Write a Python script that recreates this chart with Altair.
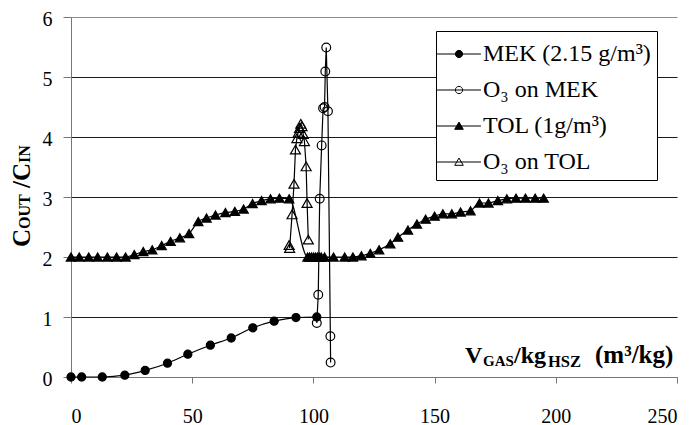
import altair as alt
import pandas as pd

FONT = "Liberation Serif"

series_names = ["MEK (2.15 g/m³)", "O₃ on MEK", "TOL (1g/m³)", "O₃ on TOL"]

mek_x = [0, 4.4, 12.9, 22.2, 30.6, 39.8, 48.2, 57.5, 66.1, 75.0, 83.8, 92.8, 101.4]
mek_y = [0, 0, 0, 0.03, 0.11, 0.23, 0.38, 0.53, 0.65, 0.82, 0.93, 0.99, 1.0]

o3mek_x = [101.4, 102.0, 102.6, 103.4, 104.0, 104.6, 104.9, 105.3, 106.0, 107.0, 107.1]
o3mek_y = [0.90, 1.37, 2.97, 3.86, 4.48, 4.50, 5.09, 5.49, 4.43, 0.68, 0.24]

tol_x = [0, 3.4, 7.3, 11.0, 15.0, 18.8, 22.5, 26.1, 29.8, 33.5, 37.4, 41.1, 44.9,
         48.7, 52.5, 55.9, 59.6, 63.7, 67.6, 71.2, 74.9, 78.6, 82.3, 86.0, 90.0,
         97.6, 98.4, 99.2, 100.0, 100.8, 101.6, 102.4, 103.2, 104.6, 108.3, 112.9,
         116.3, 119.8, 123.5, 127.1, 131.7, 134.9, 139.0, 142.7, 146.3, 150.0,
         153.4, 157.1, 160.7, 164.8, 168.5, 172.2, 176.1, 179.8, 183.6, 187.5,
         191.5, 195.0]
tol_y = [2, 2, 2, 2, 2, 2, 2, 2.04, 2.09, 2.12, 2.19, 2.26, 2.32,
         2.39, 2.59, 2.65, 2.70, 2.74, 2.76, 2.80, 2.89, 2.94, 2.97, 2.98, 2.97,
         2, 2, 2, 2, 2, 2, 2, 2, 2, 2, 2,
         2, 2.02, 2.06, 2.12, 2.22, 2.33, 2.45, 2.55, 2.63, 2.68,
         2.72, 2.72, 2.75, 2.77, 2.90, 2.90, 2.94, 2.97, 2.98, 2.98,
         2.98, 2.98]

o3tol_x = [90.0, 90.2, 91.2, 92.0, 92.6, 93.2, 93.7, 94.3, 94.8, 95.3, 95.8, 96.3, 97.0, 97.4, 97.9]
o3tol_y = [2.20, 2.15, 2.71, 3.22, 3.79, 3.98, 4.07, 4.15, 4.22, 4.18, 4.05, 3.93, 3.51, 2.90, 2.29]

x_ticks = [0, 50, 100, 150, 200, 250]
y_ticks = [0, 1, 2, 3, 4, 5, 6]

rows = []
for name, xs, ys in zip(series_names, [mek_x, o3mek_x, tol_x, o3tol_x],
                        [mek_y, o3mek_y, tol_y, o3tol_y]):
    for i, (xv, yv) in enumerate(zip(xs, ys)):
        rows.append({"series": name, "x": xv, "y": yv, "idx": i})
df = pd.DataFrame(rows)

X = alt.X("x:Q", scale=alt.Scale(domain=[0, 250], nice=False),
          axis=alt.Axis(values=x_ticks, title=None, grid=False, tickSize=6,
                        labelPadding=39, labelBaseline="alphabetic",
                        labelFont=FONT, labelFontSize=20))
Y = alt.Y("y:Q", scale=alt.Scale(domain=[0, 6], nice=False),
          axis=alt.Axis(values=y_ticks, title=None, grid=True, tickSize=8,
                        labelPadding=11, labelOffset=2.5, labelFont=FONT,
                        labelFontSize=20,
                        gridColor=alt.condition("datum.value == 6 || datum.value == 0",
                                                alt.value("#8c8c8c"), alt.value("#1a1a1a"))))

base = alt.Chart(df)

smooth = base.transform_filter(
    alt.FieldOneOfPredicate(field="series", oneOf=[series_names[0], series_names[2]])
).mark_line(interpolate="monotone", color="black", strokeWidth=1.2).encode(
    x=X, y=Y, detail="series:N", order="idx:Q")

straight = base.transform_filter(
    alt.FieldOneOfPredicate(field="series", oneOf=[series_names[1], series_names[3]])
).mark_line(interpolate="linear", color="black", strokeWidth=1.2).encode(
    x=X, y=Y, detail="series:N", order="idx:Q")

points = base.mark_point(color="black", strokeWidth=1.2, opacity=1).encode(
    x=X, y=Y,
    shape=alt.Shape("series:N", scale=alt.Scale(domain=series_names,
                    range=["circle", "circle", "triangle-up", "triangle-up"]), legend=None),
    fill=alt.Fill("series:N", scale=alt.Scale(domain=series_names,
                  range=["black", "transparent", "black", "transparent"]), legend=None),
    size=alt.Size("series:N", scale=alt.Scale(domain=series_names,
                  range=[65, 100, 100, 125]), legend=None),
)

circ = "M-1.33,0H1.33M0.22,0A0.22,0.22,0,1,1,-0.22,0A0.22,0.22,0,1,1,0.22,0Z"
tri = "M-1.33,0H1.33M0,-0.24L0.26,0.2L-0.26,0.2Z"

leg = alt.Legend(title=None, orient="none", legendX=365, legendY=14,
                 symbolSize=1089, labelFontSize=24, labelFont=FONT,
                 labelColor="black", strokeColor="black", fillColor="white",
                 padding=6, rowPadding=7, labelOffset=7, labelLimit=400,
                 symbolStrokeWidth=1, symbolStrokeColor="black")

legend_layer = base.transform_filter("false").mark_point(
    strokeWidth=1, opacity=1).encode(
    shape=alt.Shape("series:N", scale=alt.Scale(domain=series_names,
                    range=[circ, circ, tri, tri]), legend=leg),
    fill=alt.Fill("series:N", scale=alt.Scale(domain=series_names,
                  range=["black", "white", "black", "white"]), legend=leg),
    stroke=alt.Stroke("series:N", scale=alt.Scale(domain=series_names,
                      range=["black", "black", "black", "black"]), legend=leg),
)

one = pd.DataFrame({"a": [0]})


def txt(t, x, y, size, angle=0):
    kw = dict(align="left", baseline="alphabetic", font=FONT, fontSize=size,
              fontWeight="bold", color="black")
    if angle:
        kw["angle"] = angle
    return alt.Chart(one).mark_text(text=t, **kw).encode(x=alt.value(x), y=alt.value(y))


xt = [("V", 394, 346, 24), ("GAS", 412, 349, 15), ("/kg", 443, 346, 24),
      ("HSZ", 477, 350, 16.5), ("(m³/kg)", 524, 346, 25)]
yt = [("C", 230, 25), ("OUT", 212, 16), ("/", 171, 25), ("C", 164, 25), ("IN", 146, 16)]

title_layers = [txt(t, x, y, s) for t, x, y, s in xt] + \
               [txt(t, -41, y, s, angle=270) for t, y, s in yt]

chart = alt.layer(smooth, straight, points, legend_layer, *title_layers).resolve_scale(
    shape="independent", fill="independent", size="independent", stroke="independent"
).properties(
    width=606, height=360,
    autosize=alt.AutoSizeParams(type="none"),
    padding={"left": 63, "top": 9, "right": 12, "bottom": 49},
).configure(font=FONT).configure_view(stroke=None).configure_axis(
    labelFont=FONT, labelFontSize=20, labelColor="black",
    domainColor="#777777", tickColor="#777777", domainWidth=1, tickWidth=1,
    gridWidth=1
).configure_legend(labelFont=FONT)

chart.save("out.html", embed_options={"renderer": "svg", "actions": False})
